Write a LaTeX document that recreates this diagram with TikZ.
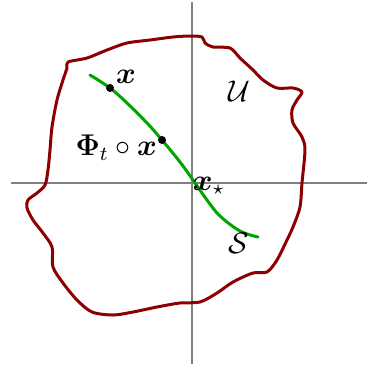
\documentclass[tikz,border=0pt]{standalone}
\usepackage{amsmath,amssymb,bm}
\usetikzlibrary{positioning}

\begin{document}
\begin{tikzpicture}[
  x=0.4pt, y=-0.4pt,
  axis/.style={gray, line width=0.6pt},
  boundary/.style={red!55!black, line width=1.2pt, line join=round},
  manifold/.style={green!65!black, line width=1.2pt, line cap=round},
  dot/.style={circle, fill=black, inner sep=0pt, minimum size=3.2pt},
  label/.style={inner sep=1pt, font=\large},
]
\useasboundingbox (0,0) rectangle (367,369);

% Coordinate axes
\draw[axis] (11,183) -- (367,183);
\draw[axis] (192,2) -- (192,364);

% Region U — wobbly closed boundary
\draw[boundary] plot[smooth cycle, tension=0.5] coordinates {
  (68,62) (67,68) (63,80) (57,100) (52,127) (50,150) (48,170) (45,185)
  (37,193) (28,200) (27,208) (33,220) (43,233) (52,247) (53,267) (63,283)
  (77,300) (92,312) (113,315) (133,312) (157,307) (180,303) (200,302)
  (217,293) (233,282) (253,273) (267,272) (277,260) (287,240) (293,227)
  (300,207) (302,183) (305,150) (302,137) (293,123) (292,110) (297,100)
  (302,92) (293,88) (277,88) (263,80) (253,70) (240,58) (230,48) (213,47)
  (205,43) (202,37) (190,36) (173,37) (150,40) (127,43) (107,50) (87,58)};

% Stable manifold S
\draw[manifold] plot[smooth, tension=0.6] coordinates {
  (90,75) (110,88) (127,103) (147,123) (162,140) (180,162) (193,180)
  (207,200) (220,216) (240,231) (258,237)};

% Points on S
\node[dot] (x0) at (110,88) {};
\node[dot] (xt) at (162,140) {};

% Labels
\node[label] (lx) at (126,77) {$\bm{x}$};
\node[label, left=-1pt of xt, yshift=-3pt] (lphi) {$\bm{\Phi}_t \circ \bm{x}$};
\node[label, anchor=west] (lstar) at (190,186) {$\bm{x}_{\star}$};
\node[label] (lU) at (239,91) {$\mathcal{U}$};
\node[label] (lS) at (239,243) {$\mathcal{S}$};

\end{tikzpicture}
\end{document}
